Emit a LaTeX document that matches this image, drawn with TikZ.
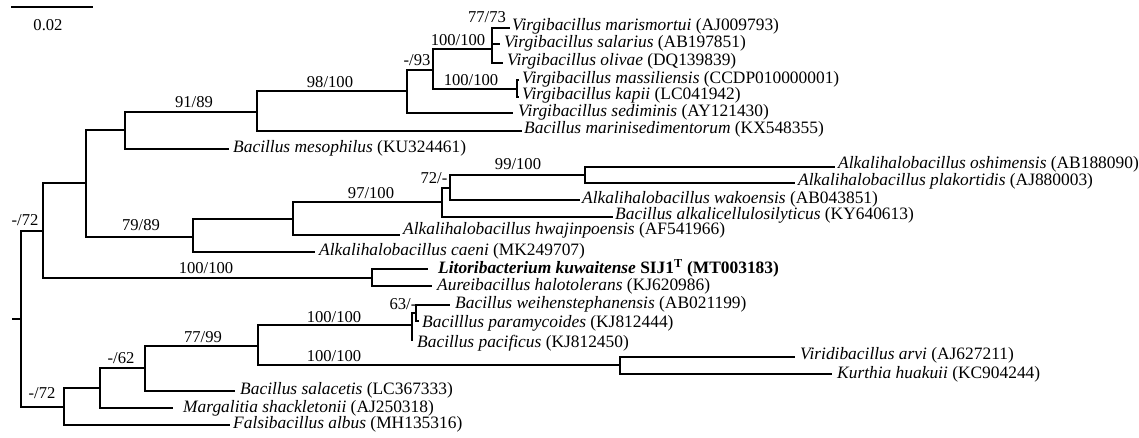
\documentclass[tikz,border=0pt]{standalone}
\usepackage{fontspec}
\setmainfont{Liberation Serif}
\begin{document}
\begin{tikzpicture}[x=1pt,y=-1pt,
  br/.style={line width=1.9pt},
  leaf/.style={anchor=west,inner sep=0pt,font=\fontsize{17.4}{20}\selectfont},
  bs/.style={inner sep=0pt,font=\fontsize{16.6}{20}\selectfont}]
\useasboundingbox (0,0) rectangle (1139,438);

% scale bar
\coordinate (sbA) at (11,7);
\coordinate (sbB) at (93,7);
\draw[br] (sbA) -- (sbB);
\node[bs] (sbl) at (48,25) {0.02};

% internal nodes
\coordinate (rs) at (12,319);
\coordinate (root) at (21,319);
\coordinate (n1) at (43,231);
\coordinate (n2) at (86,183);
\coordinate (n3) at (125,130);
\coordinate (n4) at (257,112);
\coordinate (n5) at (407,91);
\coordinate (n6) at (433,70);
\coordinate (n7) at (492,49);
\coordinate (n8) at (517,89);
\coordinate (n9) at (193,237);
\coordinate (n10) at (293,219);
\coordinate (n11) at (442,202);
\coordinate (n12) at (450,188);
\coordinate (n13) at (585,175);
\coordinate (n14) at (372,278);
\coordinate (n15) at (64,407);
\coordinate (n16) at (100,388);
\coordinate (n17) at (145,368);
\coordinate (n18) at (258,346);
\coordinate (n19) at (412,325);
\coordinate (n20) at (416,313);
\coordinate (n21) at (620,365);

% leaf branch ends
\coordinate (e1) at (510,28);
\coordinate (e2) at (500,44);
\coordinate (e3) at (503,63);
\coordinate (e4) at (519,80);
\coordinate (e5) at (519,97);
\coordinate (e6) at (513,113);
\coordinate (e7) at (522,131);
\coordinate (e8) at (229,149);
\coordinate (e9) at (835,167);
\coordinate (e10) at (795,183);
\coordinate (e11) at (580,200);
\coordinate (e12) at (613,217);
\coordinate (e13) at (400,235);
\coordinate (e14) at (315,252);
\coordinate (e15) at (428,269);
\coordinate (e16) at (432,286);
\coordinate (e17) at (450,305);
\coordinate (e18) at (419,321);
\coordinate (e19) at (413,340);
\coordinate (e20) at (795,357);
\coordinate (e21) at (832,374);
\coordinate (e22) at (235,391);
\coordinate (e23) at (173,408);
\coordinate (e24) at (230,425);

% leaf labels
\node[leaf] (l1) at (512,26) {\textit{Virgibacillus marismortui} (AJ009793)};
\node[leaf] (l2) at (504,43) {\textit{Virgibacillus salarius} (AB197851)};
\node[leaf] (l3) at (507,61) {\textit{Virgibacillus olivae} (DQ139839)};
\node[leaf] (l4) at (522,79) {\textit{Virgibacillus massiliensis} (CCDP010000001)};
\node[leaf] (l5) at (522,95) {\textit{Virgibacillus kapii} (LC041942)};
\node[leaf] (l6) at (518,112) {\textit{Virgibacillus sediminis} (AY121430)};
\node[leaf] (l7) at (524,129) {\textit{Bacillus marinisedimentorum} (KX548355)};
\node[leaf] (l8) at (233,148) {\textit{Bacillus mesophilus} (KU324461)};
\node[leaf] (l9) at (838,164) {\textit{Alkalihalobacillus oshimensis} (AB188090)};
\node[leaf] (l10) at (798,181) {\textit{Alkalihalobacillus plakortidis} (AJ880003)};
\node[leaf] (l11) at (582,199) {\textit{Alkalihalobacillus wakoensis} (AB043851)};
\node[leaf] (l12) at (615,215) {\textit{Bacillus alkalicellulosilyticus} (KY640613)};
\node[leaf] (l13) at (403,230) {\textit{Alkalihalobacillus hwajinpoensis} (AF541966)};
\node[leaf] (l14) at (319,251) {\textit{Alkalihalobacillus caeni} (MK249707)};
\node[leaf] (l15) at (438,268) {{\bfseries\itshape Litoribacterium kuwaitense} {\bfseries SIJ1\textsuperscript{T} (MT003183)}};
\node[leaf] (l16) at (437,286) {\textit{Aureibacillus halotolerans} (KJ620986)};
\node[leaf] (l17) at (455,304) {\textit{Bacillus weihenstephanensis} (AB021199)};
\node[leaf] (l18) at (422,323) {\textit{Bacilllus paramycoides} (KJ812444)};
\node[leaf] (l19) at (417,343) {\textit{Bacillus pacificus} (KJ812450)};
\node[leaf] (l20) at (800,355) {\textit{Viridibacillus arvi} (AJ627211)};
\node[leaf] (l21) at (837,374) {\textit{Kurthia huakuii} (KC904244)};
\node[leaf] (l22) at (240,390) {\textit{Bacillus salacetis} (LC367333)};
\node[leaf] (l23) at (183,408) {\textit{Margalitia shackletonii} (AJ250318)};
\node[leaf] (l24) at (233,424) {\textit{Falsibacillus albus} (MH135316)};

% branches
\draw[br] (rs) -- (root);
\draw[br] (root) |- (n1);
\draw[br] (root) |- (n15);
\draw[br] (n1) |- (n2);
\draw[br] (n1) |- (n14);
\draw[br] (n2) |- (n3);
\draw[br] (n2) |- (n9);
\draw[br] (n3) |- (n4);
\draw[br] (n3) |- (e8);
\draw[br] (n4) |- (n5);
\draw[br] (n4) |- (e7);
\draw[br] (n5) |- (n6);
\draw[br] (n5) |- (e6);
\draw[br] (n6) |- (n7);
\draw[br] (n6) |- (n8);
\draw[br] (n7) |- (e1);
\draw[br] (n7) |- (e2);
\draw[br] (n7) |- (e3);
\draw[br] (n8) |- (e4);
\draw[br] (n8) |- (e5);
\draw[br] (n9) |- (n10);
\draw[br] (n9) |- (e14);
\draw[br] (n10) |- (n11);
\draw[br] (n10) |- (e13);
\draw[br] (n11) |- (n12);
\draw[br] (n11) |- (e12);
\draw[br] (n12) |- (n13);
\draw[br] (n12) |- (e11);
\draw[br] (n13) |- (e9);
\draw[br] (n13) |- (e10);
\draw[br] (n14) |- (e15);
\draw[br] (n14) |- (e16);
\draw[br] (n15) |- (n16);
\draw[br] (n15) |- (e24);
\draw[br] (n16) |- (n17);
\draw[br] (n16) |- (e23);
\draw[br] (n17) |- (n18);
\draw[br] (n17) |- (e22);
\draw[br] (n18) |- (n19);
\draw[br] (n18) |- (n21);
\draw[br] (n19) |- (n20);
\draw[br] (n19) |- (e19);
\draw[br] (n20) |- (e17);
\draw[br] (n20) |- (e18);
\draw[br] (n21) |- (e20);
\draw[br] (n21) |- (e21);

% bootstrap values
\node[bs] (b1) at (487,17) {77/73};
\node[bs] (b2) at (458,40) {100/100};
\node[bs] (b3) at (417,60) {-/93};
\node[bs] (b4) at (471,80) {100/100};
\node[bs] (b5) at (330,82) {98/100};
\node[bs] (b6) at (194,102) {91/89};
\node[bs] (b7) at (25,220) {-/72};
\node[bs] (b8) at (141,225) {79/89};
\node[bs] (b9) at (371,193) {97/100};
\node[bs] (b10) at (434,178) {72/-};
\node[bs] (b11) at (518,164) {99/100};
\node[bs] (b12) at (206,268) {100/100};
\node[bs] (b13) at (403,304) {63/-};
\node[bs] (b14) at (334,317) {100/100};
\node[bs] (b15) at (334,356) {100/100};
\node[bs] (b16) at (203,337) {77/99};
\node[bs] (b17) at (121,358) {-/62};
\node[bs] (b18) at (42,393) {-/72};
\end{tikzpicture}
\end{document}
